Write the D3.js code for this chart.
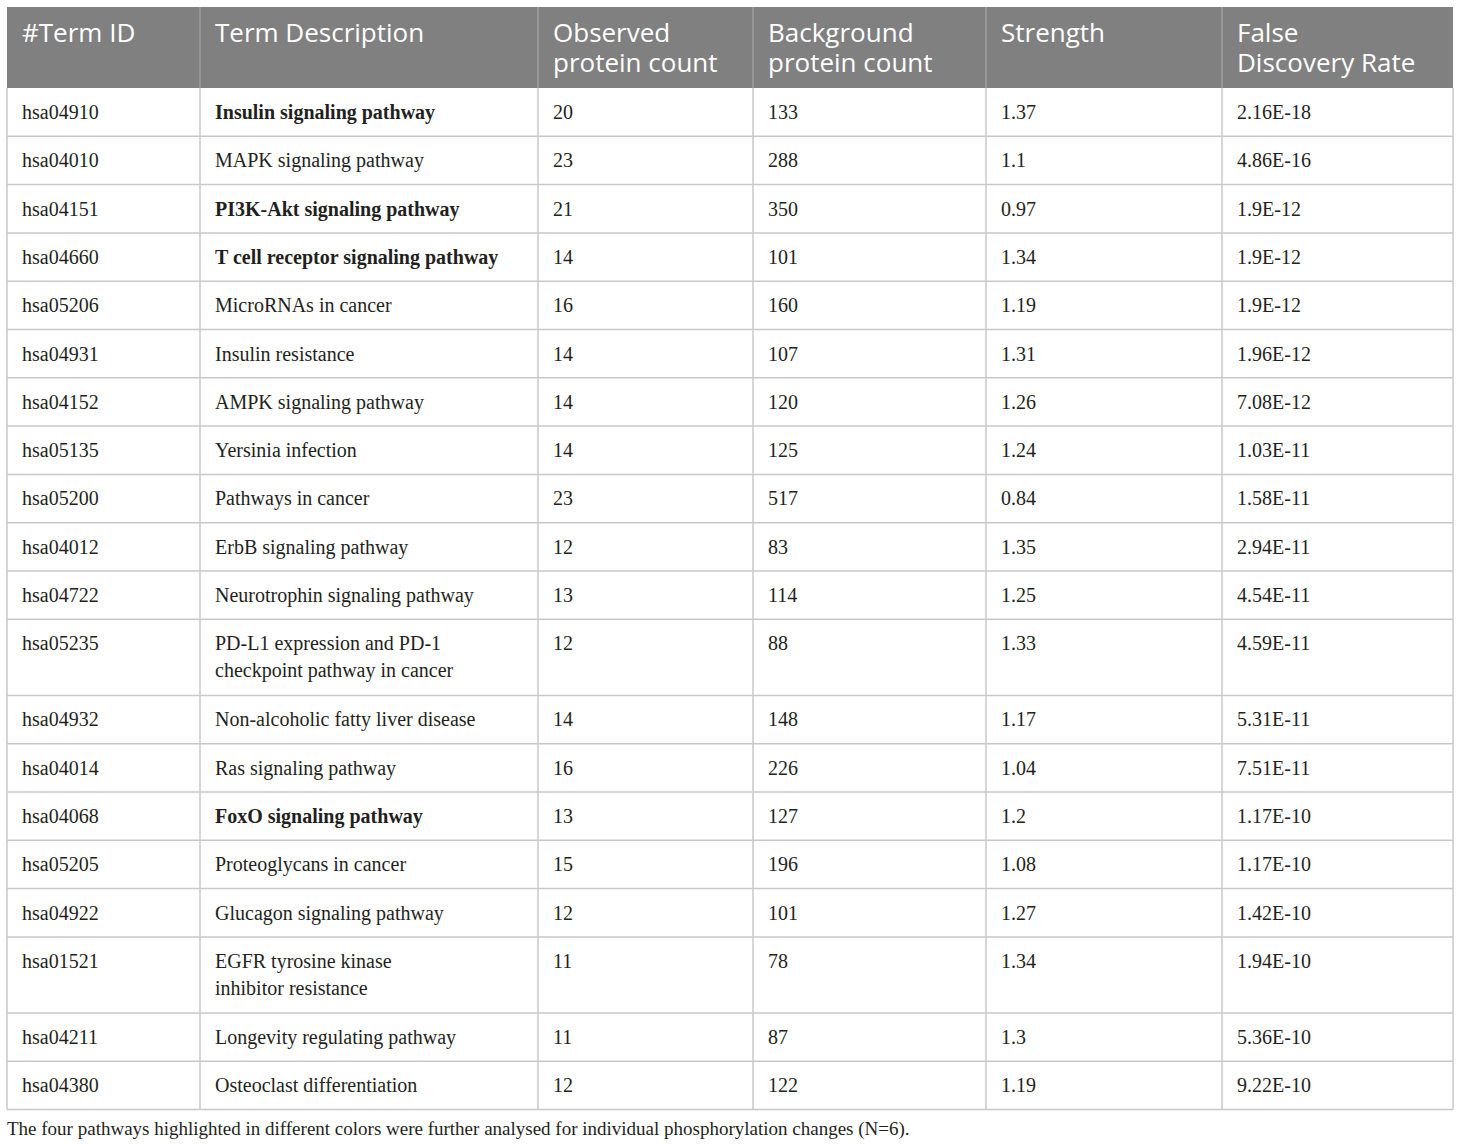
<!DOCTYPE html>
<html lang="en">
<head>
    <meta charset="UTF-8">
    <title>KEGG pathways table</title>
    <style>
        body{ margin:0; background:#fff; }
        .head{ fill:#fff; font-family:"Open Sans", sans-serif; font-size:26px; }
        .cell{ fill:#231f20; font-family:"Liberation Serif", "Times New Roman", serif; font-size:20px; }
        .note{ fill:#231f20; font-family:"Liberation Serif", "Times New Roman", serif; font-size:19px; }
    </style>
    <script src="https://cdn.jsdelivr.net/npm/d3@7"></script>
</head>
<body>
<script>
    // table content
    var headers = [["#Term ID"], ["Term Description"], ["Observed", "protein count"],
                   ["Background", "protein count"], ["Strength"], ["False", "Discovery Rate"]];
    var termIds = ["hsa04910","hsa04010","hsa04151","hsa04660","hsa05206","hsa04931","hsa04152",
                   "hsa05135","hsa05200","hsa04012","hsa04722","hsa05235","hsa04932","hsa04014",
                   "hsa04068","hsa05205","hsa04922","hsa01521","hsa04211","hsa04380"];
    var descriptions = [["Insulin signaling pathway"], ["MAPK signaling pathway"], ["PI3K-Akt signaling pathway"],
                        ["T cell receptor signaling pathway"], ["MicroRNAs in cancer"], ["Insulin resistance"],
                        ["AMPK signaling pathway"], ["Yersinia infection"], ["Pathways in cancer"],
                        ["ErbB signaling pathway"], ["Neurotrophin signaling pathway"],
                        ["PD-L1 expression and PD-1", "checkpoint pathway in cancer"],
                        ["Non-alcoholic fatty liver disease"], ["Ras signaling pathway"], ["FoxO signaling pathway"],
                        ["Proteoglycans in cancer"], ["Glucagon signaling pathway"],
                        ["EGFR tyrosine kinase", "inhibitor resistance"], ["Longevity regulating pathway"],
                        ["Osteoclast differentiation"]];
    var observed = [20,23,21,14,16,14,14,14,23,12,13,12,14,16,13,15,12,11,11,12];
    var background = [133,288,350,101,160,107,120,125,517,83,114,88,148,226,127,196,101,78,87,122];
    var strength = ["1.37","1.1","0.97","1.34","1.19","1.31","1.26","1.24","0.84","1.35","1.25","1.33",
                    "1.17","1.04","1.2","1.08","1.27","1.34","1.3","1.19"];
    var fdr = ["2.16E-18","4.86E-16","1.9E-12","1.9E-12","1.9E-12","1.96E-12","7.08E-12","1.03E-11",
               "1.58E-11","2.94E-11","4.54E-11","4.59E-11","5.31E-11","7.51E-11","1.17E-10","1.17E-10",
               "1.42E-10","1.94E-10","5.36E-10","9.22E-10"];
    var highlighted = ["hsa04910","hsa04151","hsa04660","hsa04068"];
    var footnote = "The four pathways highlighted in different colors were further analysed for individual phosphorylation changes (N=6).";

    var width = 1460, height = 1147;
    var svg = d3.select("body").append("svg")
            .attr("width", width)
            .attr("height", height);

    // column edges
    var colEdges = [7, 200, 538, 753, 986, 1222, 1453];
    var left = colEdges[0], right = colEdges[colEdges.length - 1];
    var headTop = 7, headBottom = 88;
    var lineH = 27, singleH = 48.3, extraH = lineH + 0.8;

    // rows
    var rows = termIds.map(function(id, i){
        return {
            cells: [[id], descriptions[i], [String(observed[i])], [String(background[i])], [strength[i]], [fdr[i]]],
            bold: highlighted.indexOf(id) >= 0,
            lines: descriptions[i].length
        };
    });
    var y = headBottom;
    rows.forEach(function(r){
        r.y0 = y;
        y += singleH + (r.lines - 1) * extraH;
        r.y1 = y;
    });
    var tableBottom = y;

    // header
    svg.append("rect")
            .attr("x", left).attr("y", headTop)
            .attr("width", right - left).attr("height", headBottom - headTop)
            .attr("fill", "#808080");

    svg.selectAll(".hsep")
            .data(colEdges.slice(1, -1))
            .enter().append("line")
            .attr("x1", function(d){ return d; }).attr("x2", function(d){ return d; })
            .attr("y1", headTop).attr("y2", headBottom)
            .attr("stroke", "#a6a6a6").attr("stroke-width", 1.2);

    svg.selectAll(".head")
            .data(headers)
            .enter().append("text")
            .attr("class", "head")
            .attr("x", function(d, i){ return colEdges[i] + 15; })
            .attr("y", headTop + 35)
            .each(function(d){
                var t = d3.select(this);
                d.forEach(function(s, k){
                    t.append("tspan")
                            .attr("x", t.attr("x"))
                            .attr("dy", k === 0 ? 0 : 30)
                            .text(s);
                });
            });

    // body grid
    var grid = svg.append("g")
            .attr("stroke", "#c8c8c8")
            .attr("stroke-width", 1.5);

    grid.selectAll(".hline")
            .data(rows)
            .enter().append("line")
            .attr("x1", left).attr("x2", right)
            .attr("y1", function(d){ return d.y1; })
            .attr("y2", function(d){ return d.y1; });

    grid.selectAll(".vline")
            .data(colEdges)
            .enter().append("line")
            .attr("x1", function(d){ return d; }).attr("x2", function(d){ return d; })
            .attr("y1", headBottom).attr("y2", tableBottom);

    // body text
    var rowG = svg.selectAll(".row")
            .data(rows)
            .enter().append("g")
            .attr("transform", function(d){ return "translate(0," + d.y0 + ")"; });

    rowG.selectAll("text")
            .data(function(d){
                return d.cells.map(function(c, i){ return {lines: c, col: i, bold: d.bold && i === 1}; });
            })
            .enter().append("text")
            .attr("class", "cell")
            .attr("x", function(d){ return colEdges[d.col] + 15; })
            .attr("y", 31)
            .attr("font-weight", function(d){ return d.bold ? "bold" : "normal"; })
            .each(function(d){
                var t = d3.select(this);
                d.lines.forEach(function(s, k){
                    t.append("tspan")
                            .attr("x", t.attr("x"))
                            .attr("dy", k === 0 ? 0 : lineH)
                            .text(s);
                });
            });

    // footnote
    svg.append("text")
            .attr("class", "note")
            .attr("x", left)
            .attr("y", tableBottom + 25)
            .text(footnote);
</script>
</body>
</html>
